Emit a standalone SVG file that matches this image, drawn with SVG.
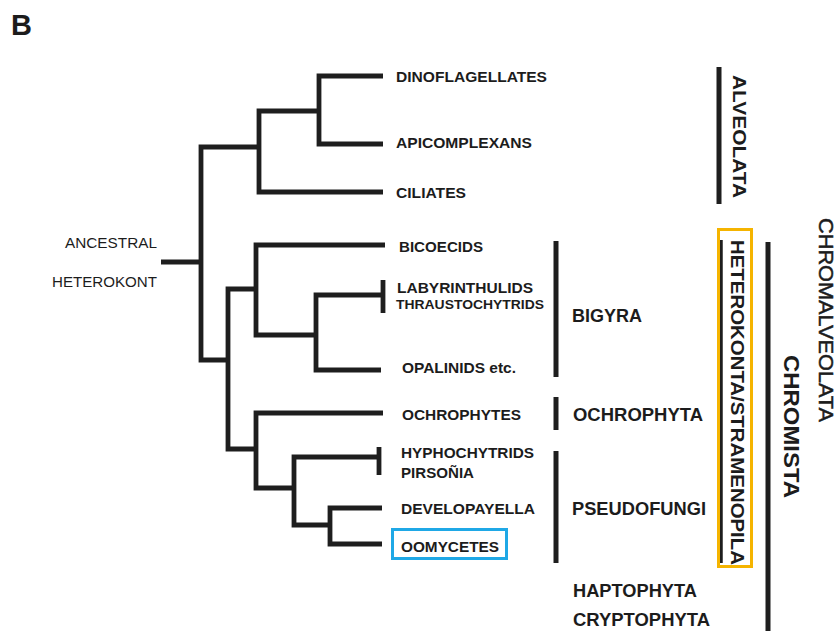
<svg xmlns="http://www.w3.org/2000/svg" width="837" height="631" viewBox="0 0 837 631">
<style>
.t{font-family:"Liberation Sans",Arial,sans-serif;fill:#1c1c1c}
.b{font-weight:bold}
.leaf{font-size:15.5px;font-weight:bold}
.grp{font-size:18px;font-weight:bold}
.br{fill:none;stroke:#1e1e1e;stroke-width:4.8;stroke-linejoin:miter;stroke-linecap:butt}
.bar{stroke:#1e1e1e;stroke-width:5;fill:none}
</style>
<rect width="837" height="631" fill="#ffffff"/>
<text class="t b" x="11" y="35" font-size="29">B</text>

<g id="connectors">
  <path class="br" d="M161 262 H201"/>
  <path class="br" d="M259 147 H201 V360 H228"/>
  <path class="br" d="M383 76 H319 V144 H383"/>
  <path class="br" d="M319 111 H259 V192 H383"/>
  <path class="br" d="M256 289 H228 V449 H256"/>
  <path class="br" d="M385 245 H256 V335 H316"/>
  <path class="br" d="M383 295 H316 V370 H381"/>
  <path class="br" d="M383 280 V313"/>
  <path class="br" d="M383 413 H256 V488 H294"/>
  <path class="br" d="M379 457 H294 V525 H330"/>
  <path class="br" d="M379 447 V475"/>
  <path class="br" d="M382 508 H330 V544 H382"/>
</g>

<g id="root"><text class="t" font-size="15" x="65" y="248.4" textLength="92" lengthAdjust="spacingAndGlyphs">ANCESTRAL</text><text class="t" font-size="15" x="52" y="287.4" textLength="105" lengthAdjust="spacingAndGlyphs">HETEROKONT</text></g>
<g id="dinoflagellates"><text class="t leaf" x="396" y="81.6" textLength="151" lengthAdjust="spacingAndGlyphs">DINOFLAGELLATES</text></g>
<g id="apicomplexans"><text class="t leaf" x="396" y="147.6" textLength="136" lengthAdjust="spacingAndGlyphs">APICOMPLEXANS</text></g>
<g id="ciliates"><text class="t leaf" x="396" y="197.6" textLength="70" lengthAdjust="spacingAndGlyphs">CILIATES</text></g>
<g id="bicoecids"><text class="t leaf" x="399" y="251.6" textLength="84" lengthAdjust="spacingAndGlyphs">BICOECIDS</text></g>
<g id="labyrinthulids"><text class="t leaf" x="397" y="292.6" textLength="136" lengthAdjust="spacingAndGlyphs">LABYRINTHULIDS</text><text class="t b" font-size="13" x="396" y="308.7" textLength="148" lengthAdjust="spacingAndGlyphs">THRAUSTOCHYTRIDS</text></g>
<g id="opalinids"><text class="t leaf" x="402" y="372.6" textLength="114" lengthAdjust="spacingAndGlyphs">OPALINIDS etc.</text></g>
<g id="ochrophytes"><text class="t leaf" x="402" y="419.6" textLength="119" lengthAdjust="spacingAndGlyphs">OCHROPHYTES</text></g>
<g id="hyphochytrids"><text class="t leaf" x="401" y="457.6" textLength="133" lengthAdjust="spacingAndGlyphs">HYPHOCHYTRIDS</text><text class="t leaf" x="401" y="477.6" textLength="73" lengthAdjust="spacingAndGlyphs">PIRSOÑIA</text></g>
<g id="developayella"><text class="t leaf" x="401" y="513.6" textLength="134" lengthAdjust="spacingAndGlyphs">DEVELOPAYELLA</text></g>
<g id="oomycetes"><rect x="392.5" y="529.5" width="114" height="29" fill="none" stroke="#1fa8e6" stroke-width="3"/><text class="t leaf" x="401" y="551.6" textLength="98" lengthAdjust="spacingAndGlyphs">OOMYCETES</text></g>

<g id="alveolata"><line class="bar" x1="719" y1="67" x2="719" y2="204"/><text class="t b" font-size="19" transform="translate(740,75) rotate(90)" x="0" y="6.8" textLength="123" lengthAdjust="spacingAndGlyphs">ALVEOLATA</text></g>
<g id="bigyra"><line class="bar" x1="556" y1="241" x2="556" y2="377"/><text class="t grp" x="572" y="322.4" textLength="70" lengthAdjust="spacingAndGlyphs">BIGYRA</text></g>
<g id="ochrophyta"><line class="bar" x1="556" y1="397" x2="556" y2="430"/><text class="t grp" x="573" y="421.4" textLength="130" lengthAdjust="spacingAndGlyphs">OCHROPHYTA</text></g>
<g id="pseudofungi"><line class="bar" x1="556" y1="451" x2="556" y2="563"/><text class="t grp" x="572" y="515.4" textLength="134" lengthAdjust="spacingAndGlyphs">PSEUDOFUNGI</text></g>
<g id="haptophyta"><text class="t grp" x="573" y="597.4" textLength="124" lengthAdjust="spacingAndGlyphs">HAPTOPHYTA</text><text class="t grp" x="573" y="626.4" textLength="137" lengthAdjust="spacingAndGlyphs">CRYPTOPHYTA</text></g>
<g id="heterokonta"><line x1="721" y1="240" x2="721" y2="563" stroke="#1e1e1e" stroke-width="3.5"/><rect x="718.5" y="229.5" width="33" height="337" fill="none" stroke="#f5b400" stroke-width="3"/><text class="t b" font-size="18" transform="translate(737,240) rotate(90)" x="0" y="6.45" textLength="325" lengthAdjust="spacingAndGlyphs">HETEROKONTA/STRAMENOPILA</text></g>
<g id="chromista"><line class="bar" x1="768" y1="242" x2="768" y2="631"/><text class="t b" font-size="22" transform="translate(792,355) rotate(90)" x="0" y="7.9" textLength="143" lengthAdjust="spacingAndGlyphs">CHROMISTA</text></g>
<g id="chromalveolata"><text class="t" font-size="21" stroke="#1c1c1c" stroke-width="0.5" transform="translate(826.5,218) rotate(90)" x="0" y="7.5" textLength="204" lengthAdjust="spacingAndGlyphs">CHROMALVEOLATA</text></g>
</svg>
